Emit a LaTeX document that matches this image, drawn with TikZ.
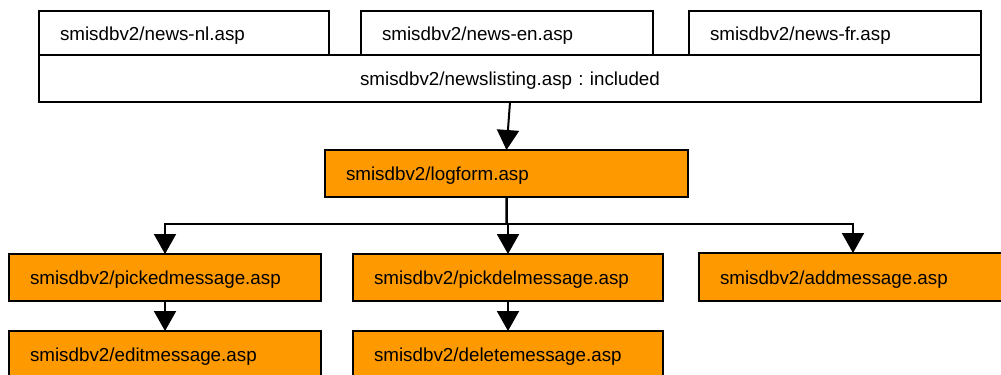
\documentclass[tikz,border=0pt]{standalone}
\usepackage{fontspec}
\setmainfont{Liberation Sans}
\usetikzlibrary{arrows.meta}
\definecolor{boxorange}{HTML}{FF9900}
\frenchspacing
\begin{document}
\begin{tikzpicture}[x=1bp,y=-1bp,
  box/.style={draw=black, line width=1.5bp, rectangle, anchor=north west,
    inner xsep=21bp, inner ysep=0pt, outer sep=0pt, align=left,
    text height=14bp, text depth=0pt,
    font=\fontsize{18.8bp}{22bp}\selectfont},
  obox/.style={box, fill=boxorange},
  conn/.style={draw=black, line width=2bp},
  arr/.style={conn, -{Triangle[length=20bp,width=22bp]}}]
\useasboundingbox (0,0) rectangle (1001,374);
\fill[white] (0,0) rectangle (1001,374);
% top white boxes
\node[box, minimum width=942bp, minimum height=47bp, text width=900bp, align=center] (big) at (39,55) {smisdbv2/newslisting.asp : included};
\node[box, minimum width=290bp, minimum height=44bp, text width=248bp] (nl) at (39,11) {smisdbv2/news-nl.asp};
\node[box, minimum width=292bp, minimum height=44bp, text width=250bp] (en) at (361,11) {smisdbv2/news-en.asp};
\node[box, minimum width=292bp, minimum height=44bp, text width=250bp] (fr) at (689,11) {smisdbv2/news-fr.asp};
% orange boxes
\node[obox, minimum width=363bp, minimum height=47bp, text width=321bp] (logform) at (325,150) {smisdbv2/logform.asp};
\node[obox, minimum width=312bp, minimum height=47bp, text width=270bp] (picked) at (9,254) {smisdbv2/pickedmessage.asp};
\node[obox, minimum width=310bp, minimum height=47bp, text width=268bp] (pickdel) at (353,254) {smisdbv2/pickdelmessage.asp};
\node[obox, minimum width=308bp, minimum height=48bp, text width=266bp] (add) at (699,253) {smisdbv2/addmessage.asp};
\node[obox, minimum width=312bp, minimum height=47bp, text width=270bp] (edit) at (9,331) {smisdbv2/editmessage.asp};
\node[obox, minimum width=310bp, minimum height=47bp, text width=268bp] (delete) at (353,331) {smisdbv2/deletemessage.asp};
% connectors
\draw[arr] (big.south) -- (logform.north);
\coordinate (bus) at (506.5,224);
\draw[conn, line width=2.5bp] (logform.south) -- (bus);
\draw[conn, line width=1.5bp] (bus) -| (picked.north);
\draw[conn, line width=1.5bp] (bus) -| (add.north);
\draw[arr] (bus -| picked.north) -- (picked.north);
\draw[arr] (bus -| pickdel.north) -- (pickdel.north);
\draw[arr] (bus -| add.north) -- (add.north);
\draw[arr] (picked.south) -- (edit.north);
\draw[arr] (pickdel.south) -- (delete.north);
\end{tikzpicture}
\end{document}
